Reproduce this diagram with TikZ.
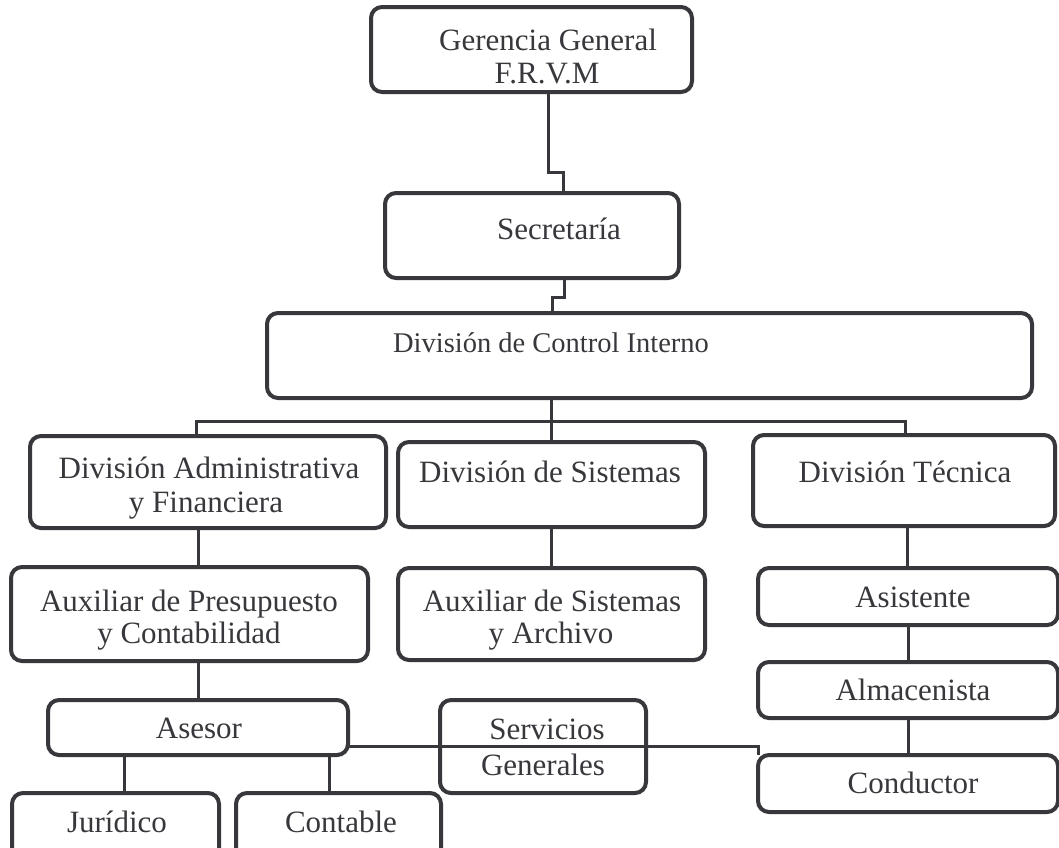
\documentclass[tikz,border=0pt]{standalone}
\usepackage{fontspec}
\setmainfont{Liberation Serif}
\definecolor{ink}{RGB}{55,55,60}
\tikzset{
  orgbox/.style={draw=ink, line width=4pt, rounded corners=11pt, inner sep=0pt, outer sep=0pt},
  link/.style={draw=ink, line width=3pt},
  txt/.style={font=\fontsize{31}{36}\selectfont, anchor=base, inner sep=0pt, text=ink},
  txts/.style={txt, font=\fontsize{28.5}{34}\selectfont}
}
\begin{document}
\begin{tikzpicture}[x=1pt,y=-1pt]
\useasboundingbox (0,0) rectangle (1059,847);
\fill[white] (0,0) rectangle (1059,847);
% boxes
\node[orgbox, minimum width=321pt, minimum height=85pt] (ger) at (531.5,49.5) {};
\node[orgbox, minimum width=294pt, minimum height=85pt] (sec) at (532,235.5) {};
\node[orgbox, minimum width=765pt, minimum height=85pt] (ctrl) at (649.5,355.5) {};
\node[orgbox, minimum width=356pt, minimum height=92pt] (adm) at (208,482) {};
\node[orgbox, minimum width=307pt, minimum height=85pt] (sis) at (551.5,484.5) {};
\node[orgbox, minimum width=302pt, minimum height=91pt] (tec) at (904,480.5) {};
\node[orgbox, minimum width=357pt, minimum height=94pt] (apre) at (189.5,614) {};
\node[orgbox, minimum width=307pt, minimum height=92pt] (asis) at (551.5,614) {};
\node[orgbox, minimum width=300pt, minimum height=57pt] (ast) at (908,596.5) {};
\node[orgbox, minimum width=300pt, minimum height=56pt] (alm) at (908,690) {};
\node[orgbox, minimum width=300pt, minimum height=57pt] (con) at (908,783.5) {};
\node[orgbox, minimum width=300pt, minimum height=55pt] (ase) at (198,727.5) {};
\node[orgbox, minimum width=206pt, minimum height=93pt] (ser) at (543,746.5) {};
\node[orgbox, minimum width=207pt, minimum height=77pt] (jur) at (115.5,831.5) {};
\node[orgbox, minimum width=205pt, minimum height=77pt] (cont) at (338.5,831.5) {};
% texts
\node[txt] (ger-t1) at (548,50) {Gerencia General};
\node[txt] (ger-t2) at (547,83) {F.R.V.M};
\node[txt] (sec-t) at (559,239) {Secretaría};
\node[txts] (ctrl-t) at (551,352) {División de Control Interno};
\node[txt] (adm-t1) at (209,478) {División Administrativa};
\node[txt] (adm-t2) at (206,512) {y Financiera};
\node[txt] (sis-t) at (550,482) {División de Sistemas};
\node[txt] (tec-t) at (905,482) {División Técnica};
\node[txt] (apre-t1) at (189,611) {Auxiliar de Presupuesto};
\node[txt] (apre-t2) at (189,643) {y Contabilidad};
\node[txt] (asis-t1) at (552,611) {Auxiliar de Sistemas};
\node[txt] (asis-t2) at (551,643) {y Archivo};
\node[txt] (ast-t) at (913,607) {Asistente};
\node[txt] (alm-t) at (913,700) {Almacenista};
\node[txt] (con-t) at (913,793) {Conductor};
\node[txt] (ase-t) at (199,738) {Asesor};
\node[txt] (ser-t1) at (547,739) {Servicios};
\node[txt] (ser-t2) at (543,775) {Generales};
\node[txt] (jur-t) at (117,832) {Jurídico};
\node[txt] (cont-t) at (341,832) {Contable};
% connectors
\draw[link] ([xshift=16.5pt]ger.south) |- (563,172) -- ([xshift=31pt]sec.north);
\draw[link] ([xshift=32pt]sec.south) |- (552,297) -- ([xshift=-97.5pt]ctrl.north);
\draw[link] (sis.north |- ctrl.south) -- (sis.north);
\coordinate (busL) at (196,421);
\coordinate (busR) at (905,421);
\draw[link] (busL |- adm.north) -- (busL) -- (busR) -- (busR |- tec.north);
\draw[link] ([xshift=-10pt]adm.south) -- ([xshift=8.5pt]apre.north);
\draw[link] (sis.south) -- (asis.north);
\draw[link] ([xshift=3pt]tec.south) -- ([xshift=-1pt]ast.north);
\draw[link] (ast.south) -- (alm.north);
\draw[link] (alm.south) -- (con.north);
\draw[link] ([xshift=8.5pt]apre.south) -- (ase.north);
\draw[link] ([xshift=-74pt]ase.south) -- ([xshift=8.5pt]jur.north);
\draw[link] ([xshift=131pt]ase.south) -- ([xshift=-9.5pt]cont.north);
\draw[link] ([yshift=-18.5pt]ase.east) -| (con.north west);
\end{tikzpicture}
\end{document}
